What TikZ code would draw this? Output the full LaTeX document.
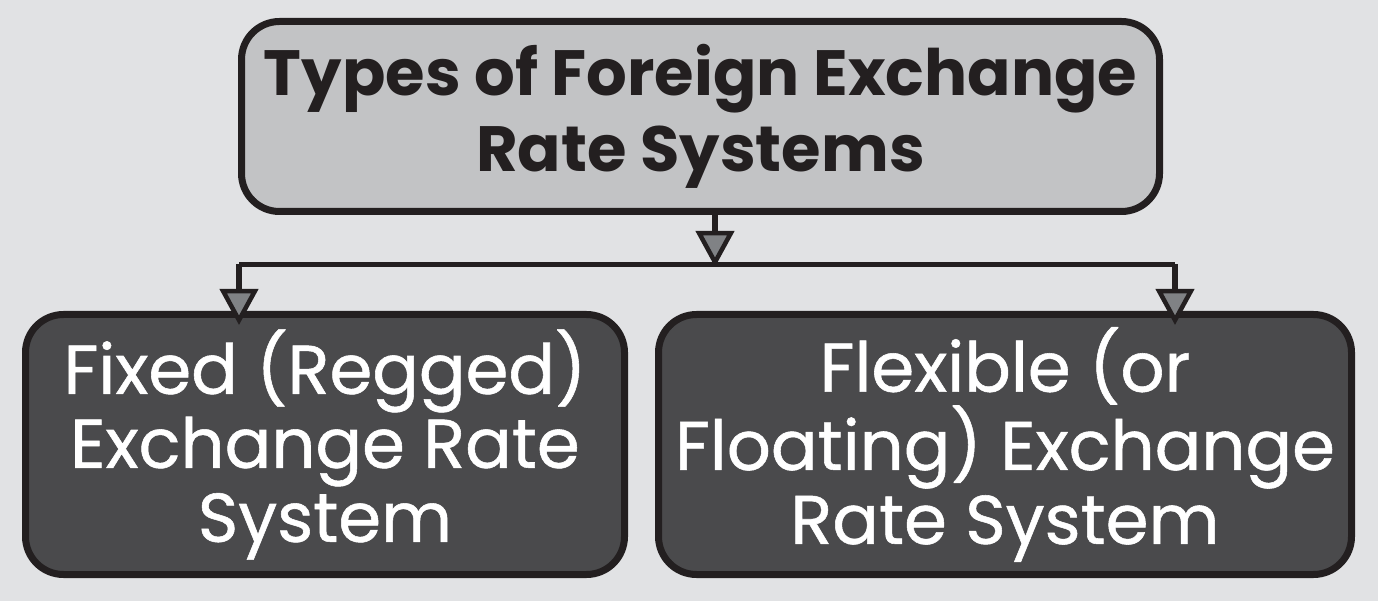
\documentclass[tikz,border=0pt]{standalone}
\usepackage{fontspec}
\setmainfont{Poppins}
\usetikzlibrary{arrows.meta}
\definecolor{bg}{HTML}{E1E2E4}
\definecolor{topfill}{HTML}{C2C3C5}
\definecolor{ink}{HTML}{231F20}
\definecolor{boxfill}{HTML}{4A4A4C}
\definecolor{tipfill}{HTML}{808285}
\tikzset{
  rbox/.style={draw=ink, line width=7pt, rounded corners=38pt, inner sep=0pt, align=center},
  conn/.style={draw=ink, line width=5.5pt},
  tipped/.style={conn, -{Triangle[width=38pt,length=36pt,line width=4.5pt,fill=tipfill,color=ink]}},
}
\begin{document}
\begin{tikzpicture}[x=1pt,y=-1pt]
\fill[bg] (0,0) rectangle (1378,601);
\useasboundingbox (0,0) rectangle (1378,601);
\node[rbox, fill=topfill, minimum width=918pt, minimum height=190pt,
  font=\fontsize{64}{76}\selectfont\bfseries, text=ink] (top) at (700.5,116.5)
  {Types of Foreign Exchange\\Rate Systems};
\node[rbox, fill=boxfill, minimum width=599pt, minimum height=260pt,
  font=\fontsize{69}{74}\selectfont\addfontfeatures{FakeBold=0.8}, text=white] (left) at (325,444.5)
  {Fixed (Regged)\\Exchange Rate\\System};
\node[rbox, fill=boxfill, minimum width=693pt, minimum height=260pt,
  font=\fontsize{69}{74}\selectfont\addfontfeatures{FakeBold=0.8}, text=white] (right) at (1005,444.5)
  {Flexible (or\\Floating) Exchange\\Rate System};
\coordinate (junc) at (715,267);
\coordinate (lcorner) at (239,264.5);
\coordinate (rcorner) at (1175,264.5);
\coordinate (ltip) at (239,325);
\coordinate (rtip) at (1175,325);
\coordinate (topout) at (715,214);
\draw[conn] (lcorner) -- (rcorner);
\draw[tipped] (topout) -- (junc);
\draw[tipped] (lcorner) -- (ltip);
\draw[tipped] (rcorner) -- (rtip);
\end{tikzpicture}
\end{document}
